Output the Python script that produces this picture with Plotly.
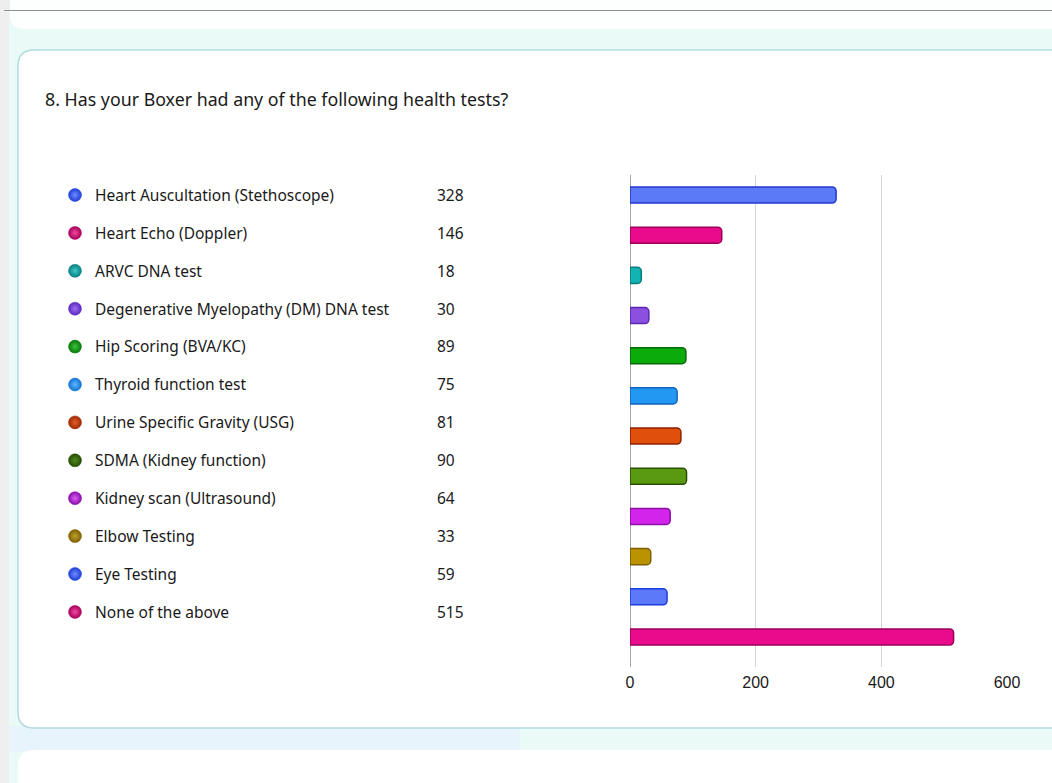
import plotly.graph_objects as go

# ---------------- data ----------------
categories = [
    "Heart Auscultation (Stethoscope)",
    "Heart Echo (Doppler)",
    "ARVC DNA test",
    "Degenerative Myelopathy (DM) DNA test",
    "Hip Scoring (BVA/KC)",
    "Thyroid function test",
    "Urine Specific Gravity (USG)",
    "SDMA (Kidney function)",
    "Kidney scan (Ultrasound)",
    "Elbow Testing",
    "Eye Testing",
    "None of the above",
]
counts = [328, 146, 18, 30, 89, 75, 81, 90, 64, 33, 59, 515]
tick_values = [0, 200, 400, 600]
title_text = "8. Has your Boxer had any of the following health tests?"

bar_fill = ["#5b7bf6", "#ea0a8c", "#13b3b3", "#8d4fe0", "#0cab0c", "#2398f2",
            "#e04f0c", "#5a9a12", "#d224ea", "#bb9300", "#5b79f8", "#ea0a8c"]
bar_edge = ["#2238d0", "#9c0058", "#087c7e", "#5a28b0", "#086a08", "#1064c0",
            "#8c2200", "#2a5000", "#8a10a2", "#7e5e00", "#1f3ee0", "#9c0058"]
dot_color = ["#1f3ed8", "#a8005c", "#0a8080", "#5e28c0", "#087a08", "#1272d4",
             "#a02800", "#264c04", "#8c0cac", "#806000", "#1f3ed8", "#a8005c"]
dot_light = ["#6d8cff", "#f04a9c", "#40c8c8", "#9a70f0", "#40c040", "#60b8ff",
             "#e06030", "#508a20", "#d860f0", "#c0a030", "#6d8cff", "#f04a9c"]

# ---------------- page geometry helpers ----------------
W, H = 1052, 783


def px(x):
    return x / W


def py(y):
    return 1 - y / H


def rrect(x0, y0, x1, y1, r):
    pts = [
        ("M", [(x0 + r, y0)]),
        ("L", [(x1 - r, y0)]),
        ("Q", [(x1, y0), (x1, y0 + r)]),
        ("L", [(x1, y1 - r)]),
        ("Q", [(x1, y1), (x1 - r, y1)]),
        ("L", [(x0 + r, y1)]),
        ("Q", [(x0, y1), (x0, y1 - r)]),
        ("L", [(x0, y0 + r)]),
        ("Q", [(x0, y0), (x0 + r, y0)]),
    ]
    s = ""
    for cmd, p in pts:
        s += cmd + " " + " ".join(f"{px(a):.5f},{py(b):.5f}" for a, b in p) + " "
    return s + "Z"


n = len(categories)
idx = list(range(n))
FONT = "Noto Sans, Open Sans, sans-serif"

fig = go.Figure()

# bars
fig.add_trace(go.Bar(
    y=categories, x=counts, orientation="h", width=0.4,
    marker=dict(color=bar_fill, line=dict(color=bar_edge, width=1.5), cornerradius=4),
    xaxis="x", yaxis="y", hoverinfo="skip", showlegend=False, cliponaxis=False,
))

# legend list: dots, labels, values
fig.add_trace(go.Scatter(
    x=[75] * n, y=idx, mode="markers",
    marker=dict(size=13, color=dot_color, line=dict(color=dot_color, width=0.5),
                gradient=dict(type="radial", color=dot_light)),
    xaxis="x2", yaxis="y2", hoverinfo="skip", showlegend=False, cliponaxis=False,
))
fig.add_trace(go.Scatter(
    x=[95] * n, y=idx, mode="text", text=categories, textposition="middle right",
    textfont=dict(family=FONT, size=15.5, color="#1a1a1a"),
    xaxis="x2", yaxis="y3", hoverinfo="skip", showlegend=False, cliponaxis=False,
))
fig.add_trace(go.Scatter(
    x=[437] * n, y=idx, mode="text", text=[str(c) for c in counts], textposition="middle right",
    textfont=dict(family=FONT, size=15.5, color="#1a1a1a"),
    xaxis="x2", yaxis="y3", hoverinfo="skip", showlegend=False, cliponaxis=False,
))

# ---------------- background shapes ----------------
shapes = [
    dict(type="rect", xref="paper", yref="paper", x0=0, x1=px(9), y0=0, y1=1,
         fillcolor="#efefef", line=dict(width=0), layer="below"),
    dict(type="rect", xref="paper", yref="paper", x0=0, x1=1, y0=py(10), y1=1,
         fillcolor="#eeeeee", line=dict(width=0), layer="below"),
    dict(type="path", xref="paper", yref="paper", path=rrect(10, -40, 1120, 29, 14),
         fillcolor="#fdfefe", line=dict(width=0), layer="below"),
    dict(type="line", xref="paper", yref="paper", x0=px(4), x1=1, y0=py(10.5), y1=py(10.5),
         line=dict(color="#8e8e8e", width=1), layer="below"),
    dict(type="rect", xref="paper", yref="paper", x0=px(9), x1=px(520), y0=py(752), y1=py(726),
         fillcolor="#e7f4fb", line=dict(width=0), layer="below"),
    dict(type="path", xref="paper", yref="paper", path=rrect(18, 50, 1130, 728, 16),
         fillcolor="#ffffff", line=dict(color="#b3dbe0", width=1.5), layer="below"),
    dict(type="path", xref="paper", yref="paper", path=rrect(18, 750, 1130, 900, 16),
         fillcolor="#ffffff", line=dict(width=0), layer="below"),
]

annotations = [
    dict(xref="paper", yref="paper", x=px(43), y=py(99), xanchor="left", yanchor="middle",
         text=title_text, showarrow=False,
         font=dict(family=FONT, size=17.8, color="#1a1a1a")),
]

plot_top, plot_bot = 175, 667
row0, step = 195, 40.18
y_lo = (plot_top - row0) / step
y_hi = (plot_bot - row0) / step

# legend list rows (dots) and text rows (text drawn ~2px higher by renderer)
lrow0, lstep = 195, 37.9
ly_lo = -lrow0 / lstep
ly_hi = (H - lrow0) / lstep
trow0 = 197
ty_lo = -trow0 / lstep
ty_hi = (H - trow0) / lstep

fig.update_layout(
    template="none",
    width=W, height=H, autosize=False,
    margin=dict(l=0, r=0, t=0, b=0, pad=0, autoexpand=False),
    paper_bgcolor="#eafaf7",
    plot_bgcolor="rgba(0,0,0,0)",
    font=dict(family=FONT, color="#1a1a1a"),
    shapes=shapes,
    annotations=annotations,
    xaxis=dict(
        domain=[px(630), px(1007)], range=[0, 600], tickvals=tick_values,
        showgrid=True, gridcolor="#d4d4d4", gridwidth=1,
        zeroline=True, zerolinecolor="#a8a8a8", zerolinewidth=1,
        showline=False, ticks="", fixedrange=True, automargin=False,
        ticklabelstandoff=4,
        tickfont=dict(family="Liberation Sans, Arial, sans-serif", size=16, color="#1a1a1a"),
        anchor="y",
    ),
    yaxis=dict(
        domain=[py(plot_bot), py(plot_top)], range=[y_hi, y_lo],
        categoryorder="array", categoryarray=categories,
        showticklabels=False, showgrid=False, zeroline=False, showline=False,
        ticks="", fixedrange=True, anchor="x", automargin=False,
    ),
    xaxis2=dict(domain=[0, 1], range=[0, W], visible=False, fixedrange=True,
                anchor="y2", automargin=False),
    yaxis2=dict(domain=[0, 1], range=[ly_hi, ly_lo], visible=False, fixedrange=True,
                anchor="x2", automargin=False),
    yaxis3=dict(domain=[0, 1], range=[ty_hi, ty_lo], visible=False, fixedrange=True,
                anchor="x2", overlaying="y2", automargin=False),
)

post = (
    "document.documentElement.style.margin='0';"
    "document.documentElement.style.overflow='hidden';"
    "document.body.style.margin='0';document.body.style.padding='0';"
    "document.body.style.overflow='hidden';"
)

fig.write_html(
    "out.html",
    config={"displayModeBar": False, "responsive": False},
    post_script=post,
)
